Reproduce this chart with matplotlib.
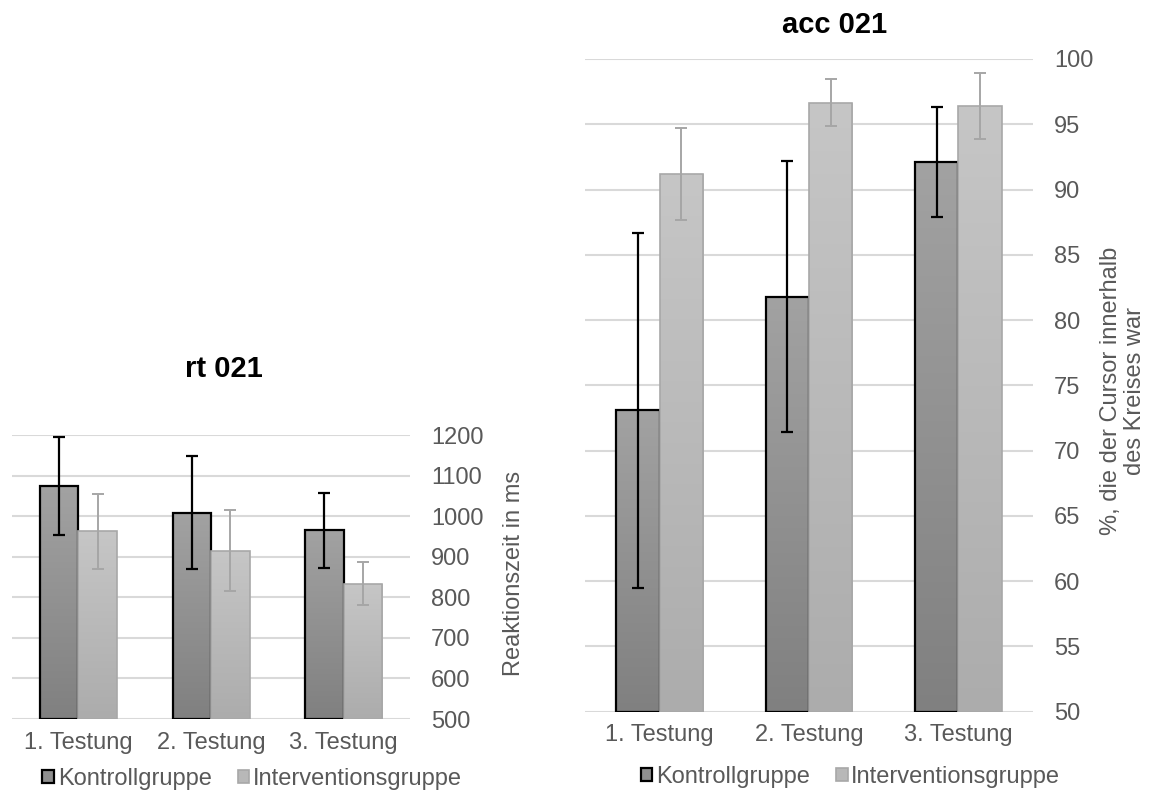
import numpy as np
import matplotlib
matplotlib.use('Agg')
import matplotlib.pyplot as plt
from matplotlib.colors import LinearSegmentedColormap
from matplotlib.patches import Patch

plt.rcParams['font.family'] = ['Liberation Sans', 'DejaVu Sans']

# data
categories = ['1. Testung', '2. Testung', '3. Testung']
groups = ['Kontrollgruppe', 'Interventionsgruppe']

rt_kontroll = [1074, 1009, 965]
rt_kontroll_err = [120, 140, 93]
rt_interv = [963, 915, 834]
rt_interv_err = [92, 100, 54]

acc_kontroll = [73.1, 81.8, 92.1]
acc_kontroll_err = [13.6, 10.4, 4.2]
acc_interv = [91.2, 96.65, 96.4]
acc_interv_err = [3.5, 1.8, 2.5]

tick_gray = '#595959'
grid_gray = '#d9d9d9'


def gradient_fill(ax, bars, c_top, c_bot, z):
    cmap = LinearSegmentedColormap.from_list('g', [c_bot, c_top])
    grad = np.linspace(0, 1, 256).reshape(-1, 1)
    for b in bars:
        x, y = b.get_x(), b.get_y()
        w, h = b.get_width(), b.get_height()
        im = ax.imshow(grad, cmap=cmap, extent=[x, x + w, y, y + h], origin='lower',
                       aspect='auto', zorder=z, interpolation='bilinear')
        im.set_clip_path(b)


def draw_chart(ax, kon, kon_err, inter, inter_err, base, top, step):
    x = np.arange(len(categories))
    w = 0.29
    kb = ax.bar(x - w / 2, np.array(kon) - base, w, bottom=base, facecolor='none',
                edgecolor='black', linewidth=1.6, zorder=3)
    gradient_fill(ax, kb, '#a2a2a2', '#808080', 2.9)
    ib = ax.bar(x + w / 2, np.array(inter) - base, w, bottom=base, facecolor='none',
                edgecolor='#a8a8a8', linewidth=1.2, zorder=3.3)
    gradient_fill(ax, ib, '#c6c6c6', '#acacac', 3.2)
    ax.errorbar(x - w / 2, kon, yerr=kon_err, fmt='none', ecolor='black',
                elinewidth=1.6, capsize=4, capthick=1.6, zorder=5)
    ax.errorbar(x + w / 2, inter, yerr=inter_err, fmt='none', ecolor='#a6a6a6',
                elinewidth=1.4, capsize=4, capthick=1.4, zorder=5)
    ax.set_xlim(-0.5, len(categories) - 0.5)
    ax.set_ylim(base, top)
    ax.set_yticks(np.arange(base, top + step / 2, step))
    ax.set_xticks(x)
    ax.set_xticklabels(categories)
    ax.yaxis.tick_right()
    ax.yaxis.grid(True, color=grid_gray, linewidth=1.5, zorder=0)
    ax.set_axisbelow(True)
    for s in ax.spines.values():
        s.set_visible(False)
    ax.tick_params(axis='y', length=0, pad=15, labelsize=17, labelcolor=tick_gray)
    ax.tick_params(axis='x', length=0, pad=9, labelsize=17, labelcolor=tick_gray)


fig = plt.figure(figsize=(11.57, 7.96), dpi=100)

ax1 = fig.add_axes([0.0104, 0.0967, 0.344, 0.3568])
draw_chart(ax1, rt_kontroll, rt_kontroll_err, rt_interv, rt_interv_err, 500, 1200, 100)

ax2 = fig.add_axes([0.5056, 0.1059, 0.3872, 0.8200])
draw_chart(ax2, acc_kontroll, acc_kontroll_err, acc_interv, acc_interv_err, 50, 100, 5)

# titles
fig.text(0.1936, 0.5364, 'rt 021', ha='center', va='center', fontsize=21, fontweight='bold')
fig.text(0.7214, 0.9686, 'acc 021', ha='center', va='center', fontsize=21, fontweight='bold')

# axis labels
fig.text(0.4445, 0.28, 'Reaktionszeit in ms', rotation=90, ha='center', va='center',
         fontsize=17, color=tick_gray)
fig.text(0.9706, 0.509, '%, die der Cursor innerhalb\ndes Kreises war', rotation=90,
         ha='center', va='center', fontsize=17, color=tick_gray, linespacing=1.1,
         multialignment='center')

# legends
handles = [Patch(facecolor='#8f8f8f', edgecolor='black', linewidth=1.6),
           Patch(facecolor='#b8b8b8', edgecolor='#a8a8a8', linewidth=1.2)]
for cx, cy in [(0.218, 0.0214), (0.735, 0.0243)]:
    fig.legend(handles, groups, loc='center', bbox_to_anchor=(cx, cy), ncol=2,
               frameon=False, fontsize=17, handlelength=0.5, handleheight=0.5,
               handletextpad=0.15, columnspacing=1.1, labelcolor=tick_gray,
               borderaxespad=0, borderpad=0)

fig.savefig('out.png', dpi=100)
